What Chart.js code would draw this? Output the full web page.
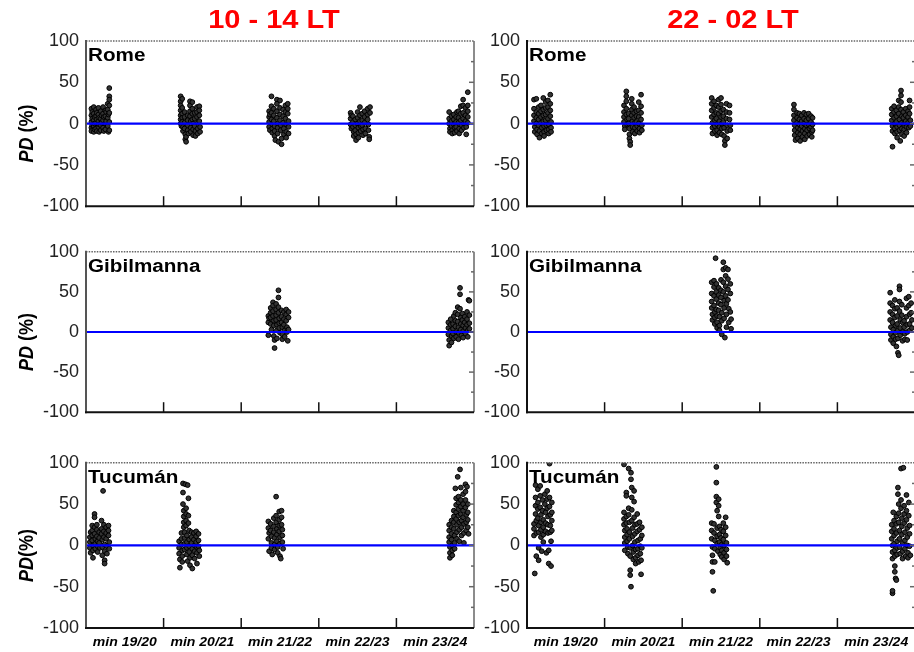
<!DOCTYPE html>
<html>
<head>
<meta charset="utf-8">
<script src="https://cdn.jsdelivr.net/npm/chart.js@4/dist/chart.umd.min.js"></script>
<style>
  html, body { margin: 0; padding: 0; background: #fff; overflow: hidden; width: 914px; height: 652px; }
  #wrap { position: relative; width: 914px; height: 652px; }
  #wrap canvas { position: absolute; }
</style>
</head>
<body>
<div id="wrap"></div>
<script>
// Local-time windows (columns) and stations (rows)
const periods = ['10 - 14 LT', '22 - 02 LT'];
const stations = ['Rome', 'Gibilmanna', 'Tucumán'];
// Solar-minimum winters along the x axis (one unit per winter)
const minima = ['min 19/20', 'min 20/21', 'min 21/22', 'min 22/23', 'min 23/24'];
const yMin = -100, yMax = 100, yStep = 50;
// zero reference level
const baseline = [[0, 0], [5, 0]];

// Percentage deviation PD (%) : [x position, PD]
const romeDay = [
  [0.07,18],[0.07,10],[0.07,2],[0.07,-5],[0.07,-9],[0.08,14],[0.08,6],[0.08,-2],
  [0.10,20],[0.10,12],[0.10,4],[0.10,-3],[0.10,-10],[0.11,8],[0.11,0],[0.11,-7],
  [0.13,17],[0.13,9],[0.13,1],[0.13,-6],[0.14,13],[0.14,5],[0.14,-9],
  [0.16,19],[0.16,11],[0.16,3],[0.16,-4],[0.17,7],[0.17,-1],[0.17,-10],
  [0.19,15],[0.19,6],[0.19,-2],[0.19,-8],[0.20,10],[0.20,1],
  [0.22,20],[0.22,12],[0.22,4],[0.22,-5],[0.23,8],[0.23,-9],
  [0.25,16],[0.25,9],[0.25,0],[0.25,-7],[0.26,14],[0.26,3],
  [0.28,24],[0.28,17],[0.28,7],[0.28,-3],[0.29,-10],[0.29,11],
  [0.30,43],[0.30,33],[0.30,29],[0.30,22],[0.30,13],[0.30,2],[0.30,-8],

  [1.22,33],[1.22,27],[1.22,22],[1.22,16],[1.22,10],[1.22,5],[1.22,0],[1.23,-3],
  [1.24,30],[1.24,19],[1.24,12],[1.24,7],[1.24,2],[1.25,-4],[1.25,-9],
  [1.27,14],[1.27,8],[1.27,1],[1.27,-6],[1.28,-13],[1.28,-19],[1.29,-22],[1.29,-16],
  [1.31,10],[1.31,4],[1.31,-2],[1.31,-8],[1.32,-12],
  [1.34,27],[1.34,22],[1.34,15],[1.34,9],[1.35,3],[1.35,-5],[1.35,-10],
  [1.37,26],[1.37,18],[1.37,12],[1.37,5],[1.38,0],[1.38,-7],[1.38,-14],
  [1.40,13],[1.40,6],[1.40,-3],[1.41,-9],[1.41,-15],
  [1.43,20],[1.43,14],[1.43,8],[1.44,1],[1.44,-6],[1.44,-12],
  [1.46,21],[1.46,16],[1.46,10],[1.46,3],[1.47,-4],[1.47,-10],

  [2.36,15],[2.36,8],[2.36,2],[2.36,-4],[2.37,-8],[2.37,11],
  [2.39,33],[2.39,21],[2.39,13],[2.39,5],[2.40,-1],[2.40,-6],[2.40,-11],
  [2.42,18],[2.42,10],[2.42,3],[2.43,-3],[2.43,-9],[2.43,-15],[2.44,-20],
  [2.46,29],[2.46,24],[2.46,15],[2.46,7],[2.47,0],[2.47,-5],[2.47,-12],[2.48,-22],
  [2.50,28],[2.50,19],[2.50,11],[2.50,4],[2.51,-2],[2.51,-8],[2.52,-18],[2.52,-25],
  [2.54,17],[2.54,9],[2.54,1],[2.55,-6],[2.55,-13],
  [2.57,22],[2.57,14],[2.57,6],[2.58,-1],[2.58,-10],[2.58,-17],
  [2.60,24],[2.60,18],[2.60,12],[2.61,3],[2.61,-4],[2.61,-12],

  [3.41,13],[3.41,6],[3.41,-1],[3.42,-6],[3.42,10],
  [3.44,9],[3.44,2],[3.44,-4],[3.45,-10],[3.45,-15],
  [3.47,5],[3.47,-2],[3.47,-8],[3.48,-13],[3.48,-20],
  [3.50,14],[3.50,7],[3.50,0],[3.51,-5],[3.51,-11],[3.51,-17],
  [3.53,20],[3.53,10],[3.53,3],[3.54,-3],[3.54,-9],
  [3.56,12],[3.56,4],[3.56,-2],[3.57,-7],[3.57,-14],
  [3.59,15],[3.59,8],[3.59,1],[3.60,-6],[3.60,-12],
  [3.63,18],[3.63,11],[3.63,5],[3.64,-1],[3.64,-8],[3.65,-16],[3.65,-19],
  [3.66,20],[3.66,13],

  [4.68,14],[4.68,6],[4.68,0],[4.69,-6],[4.69,-10],
  [4.71,9],[4.71,3],[4.71,-3],[4.72,-8],[4.72,-12],
  [4.74,11],[4.74,5],[4.74,-1],[4.75,-5],[4.75,-11],
  [4.77,8],[4.77,2],[4.77,-4],[4.78,-9],[4.78,14],
  [4.80,15],[4.80,7],[4.80,1],[4.81,-6],[4.81,-12],
  [4.83,21],[4.83,12],[4.83,4],[4.84,-2],[4.84,-8],
  [4.86,29],[4.86,22],[4.86,13],[4.86,6],[4.87,0],[4.87,-5],
  [4.89,19],[4.89,10],[4.89,3],[4.90,-4],[4.90,-13],
  [4.92,38],[4.92,22],[4.92,15],[4.92,8],[4.92,1]
];

const romeNight = [
  [0.09,29],[0.09,18],[0.09,10],[0.09,3],[0.10,-4],[0.10,-10],
  [0.12,30],[0.12,14],[0.12,7],[0.12,0],[0.13,-7],[0.13,-13],
  [0.15,20],[0.15,12],[0.15,5],[0.15,-2],[0.16,-9],[0.16,-17],
  [0.18,22],[0.18,15],[0.18,8],[0.18,1],[0.19,-5],[0.19,-12],
  [0.21,31],[0.21,17],[0.21,10],[0.21,3],[0.22,-3],[0.22,-10],[0.22,-15],
  [0.24,26],[0.24,19],[0.24,11],[0.24,4],[0.25,-2],[0.25,-8],
  [0.27,28],[0.27,20],[0.27,13],[0.27,6],[0.28,-1],[0.28,-7],[0.28,-12],
  [0.30,35],[0.30,24],[0.30,16],[0.30,9],[0.31,2],[0.31,-5],[0.31,-10],

  [1.25,22],[1.25,14],[1.25,8],[1.25,2],[1.26,-3],[1.26,-7],
  [1.28,39],[1.28,33],[1.28,27],[1.28,18],[1.28,11],[1.29,5],[1.29,-1],
  [1.31,12],[1.31,6],[1.31,0],[1.32,-6],[1.32,-13],[1.32,-18],[1.33,-22],[1.33,-26],
  [1.35,30],[1.35,24],[1.35,17],[1.35,10],[1.36,3],[1.36,-4],[1.36,-10],
  [1.38,20],[1.38,13],[1.38,7],[1.39,1],[1.39,-5],[1.39,-12],
  [1.41,15],[1.41,9],[1.41,2],[1.42,-3],[1.42,-9],
  [1.44,26],[1.44,16],[1.44,8],[1.44,0],[1.45,-6],[1.45,-11],
  [1.47,35],[1.47,21],[1.47,13],[1.47,5],[1.48,-2],[1.48,-8],

  [2.38,31],[2.38,24],[2.38,16],[2.38,8],[2.39,1],[2.39,-5],[2.39,-12],
  [2.41,27],[2.41,19],[2.41,11],[2.42,4],[2.42,-3],[2.42,-9],
  [2.44,22],[2.44,13],[2.44,6],[2.45,-1],[2.45,-8],[2.45,-14],
  [2.47,29],[2.47,20],[2.47,12],[2.48,3],[2.48,-4],[2.48,-11],
  [2.50,31],[2.50,23],[2.50,15],[2.50,8],[2.51,0],[2.51,-6],[2.51,-13],
  [2.53,17],[2.53,9],[2.53,2],[2.54,-5],[2.54,-15],[2.55,-21],[2.55,-26],
  [2.57,24],[2.57,14],[2.57,6],[2.58,-2],[2.58,-9],[2.58,-18],
  [2.61,22],[2.61,13],[2.61,5],[2.62,-2],[2.62,-8],

  [3.44,23],[3.44,17],[3.44,10],[3.44,4],[3.45,-2],[3.45,-8],[3.45,-14],[3.46,-20],
  [3.48,13],[3.48,7],[3.48,1],[3.49,-5],[3.49,-11],[3.49,-18],
  [3.51,12],[3.51,5],[3.51,-1],[3.52,-7],[3.52,-13],[3.52,-21],
  [3.54,10],[3.54,3],[3.54,-3],[3.55,-9],[3.55,-16],
  [3.57,13],[3.57,6],[3.57,0],[3.58,-6],[3.58,-12],[3.58,-19],
  [3.60,11],[3.60,4],[3.60,-2],[3.61,-8],[3.61,-15],
  [3.63,12],[3.63,6],[3.63,-1],[3.64,-6],[3.64,-13],
  [3.66,9],[3.66,2],[3.66,-4],[3.67,-10],[3.67,-16],
  [3.68,7],[3.68,-1],[3.68,-8],

  [4.70,18],[4.70,11],[4.70,4],[4.71,-3],[4.71,-9],[4.71,-28],
  [4.73,21],[4.73,14],[4.73,7],[4.74,0],[4.74,-6],[4.74,-12],
  [4.76,16],[4.76,9],[4.76,2],[4.77,-4],[4.77,-10],[4.77,-17],
  [4.79,28],[4.79,20],[4.79,12],[4.80,5],[4.80,-2],[4.80,-8],[4.81,-21],
  [4.82,40],[4.82,34],[4.82,26],[4.82,17],[4.83,9],[4.83,1],[4.83,-6],[4.83,-13],
  [4.85,14],[4.85,7],[4.86,0],[4.86,-7],[4.86,-15],
  [4.88,18],[4.88,10],[4.88,3],[4.89,-4],[4.89,-11],
  [4.91,15],[4.91,8],[4.91,1],[4.92,-5],
  [4.93,28],[4.93,20],[4.93,12],[4.94,4],[4.94,-3]
];

const gibilDay = [
  [2.35,20],[2.35,12],[2.35,-4],[2.36,17],
  [2.38,30],[2.38,24],[2.38,18],[2.38,10],[2.39,3],
  [2.41,37],[2.41,33],[2.41,26],[2.41,20],[2.42,14],[2.42,8],[2.42,-5],[2.43,-10],[2.43,-20],
  [2.45,35],[2.45,28],[2.45,21],[2.45,15],[2.46,9],[2.46,2],[2.46,-8],
  [2.48,52],[2.48,43],[2.48,31],[2.48,24],[2.49,17],[2.49,11],[2.49,5],[2.50,-1],
  [2.52,27],[2.52,19],[2.52,12],[2.53,6],[2.53,-3],[2.53,-9],
  [2.55,25],[2.55,16],[2.55,9],[2.56,2],[2.56,-6],
  [2.58,28],[2.58,22],[2.58,14],[2.59,6],[2.59,0],[2.60,-11],
  [2.61,25],[2.61,18],[2.61,3],

  [4.67,12],[4.67,5],[4.67,-3],[4.68,-10],[4.68,-17],
  [4.70,16],[4.70,9],[4.70,2],[4.71,-5],[4.71,-13],
  [4.73,10],[4.73,4],[4.73,-2],[4.74,-8],[4.74,20],
  [4.76,24],[4.76,14],[4.76,7],[4.77,0],[4.77,-6],
  [4.79,31],[4.79,22],[4.79,13],[4.80,6],[4.80,-1],[4.80,-9],
  [4.82,55],[4.82,47],[4.82,29],[4.83,18],[4.83,10],[4.83,3],[4.84,-4],
  [4.85,23],[4.85,15],[4.86,8],[4.86,1],[4.86,-7],
  [4.88,19],[4.88,12],[4.89,5],[4.89,-2],
  [4.91,25],[4.91,16],[4.91,9],[4.92,2],[4.92,-6],
  [4.93,40],[4.94,39],[4.94,21],[4.94,11],[4.94,4]
];

const gibilNight = [
  [2.38,62],[2.38,48],[2.38,38],[2.38,30],[2.39,22],[2.39,15],
  [2.41,64],[2.41,56],[2.41,45],[2.41,33],[2.42,25],[2.42,18],[2.42,10],
  [2.43,92],
  [2.44,60],[2.44,50],[2.44,41],[2.44,28],[2.45,20],[2.45,12],[2.45,5],
  [2.47,55],[2.47,46],[2.47,36],[2.47,27],[2.48,19],[2.48,8],[2.48,2],
  [2.50,65],[2.50,52],[2.50,43],[2.50,34],[2.51,24],[2.51,14],[2.51,-3],
  [2.53,87],[2.53,78],[2.53,62],[2.53,50],[2.54,39],[2.54,30],[2.54,17],[2.55,-7],
  [2.56,80],[2.56,70],[2.56,57],[2.56,45],[2.57,35],[2.57,22],[2.57,6],
  [2.59,78],[2.59,66],[2.59,53],[2.59,40],[2.60,29],[2.60,12],
  [2.62,60],[2.62,48],[2.62,25],[2.63,16],[2.63,4],

  [4.68,49],[4.68,36],[4.68,25],[4.68,15],[4.69,6],[4.69,-3],[4.69,-10],
  [4.71,33],[4.71,22],[4.71,12],[4.72,3],[4.72,-6],[4.72,-14],
  [4.74,40],[4.74,29],[4.74,18],[4.75,8],[4.75,-1],[4.75,-9],[4.76,-18],
  [4.77,30],[4.77,20],[4.77,10],[4.78,2],[4.78,-8],[4.78,-26],[4.79,-29],
  [4.80,57],[4.80,53],[4.80,38],[4.80,26],[4.81,15],[4.81,5],[4.81,-4],
  [4.83,34],[4.83,21],[4.84,12],[4.84,0],[4.84,-11],
  [4.86,14],[4.86,6],[4.87,-2],[4.87,-9],
  [4.89,42],[4.89,30],[4.89,19],[4.90,9],[4.90,0],[4.90,-10],
  [4.92,44],[4.92,33],[4.93,22],[4.93,10],[4.93,2],
  [4.95,36],[4.95,24],[4.96,15],[4.96,5]
];

const tucuDay = [
  [0.05,10],[0.05,4],[0.05,-3],[0.06,-9],[0.06,16],
  [0.08,24],[0.08,18],[0.08,12],[0.08,6],[0.09,0],[0.09,-6],[0.09,-15],
  [0.11,38],[0.11,34],[0.11,22],[0.11,14],[0.12,8],[0.12,2],[0.12,-4],
  [0.14,25],[0.14,19],[0.14,11],[0.15,5],[0.15,-1],[0.15,-8],
  [0.17,16],[0.17,9],[0.17,3],[0.18,-3],
  [0.20,30],[0.20,20],[0.20,14],[0.21,7],[0.21,-2],[0.21,-12],
  [0.22,66],
  [0.23,25],[0.23,17],[0.23,10],[0.24,1],[0.24,-7],[0.24,-18],[0.24,-22],
  [0.26,22],[0.26,15],[0.26,8],[0.27,-1],[0.27,-10],
  [0.29,24],[0.29,18],[0.29,12],[0.30,4],[0.30,-4],

  [1.20,5],[1.20,-3],[1.20,-10],[1.21,-17],[1.21,-27],
  [1.23,15],[1.23,8],[1.23,1],[1.24,-6],[1.24,-13],[1.24,-20],
  [1.25,75],[1.25,64],[1.25,50],[1.26,42],[1.26,35],[1.26,28],[1.26,22],[1.27,16],[1.27,9],[1.27,2],[1.27,-5],
  [1.28,74],[1.29,45],[1.29,38],[1.29,30],[1.29,24],[1.30,12],[1.30,4],[1.30,-3],[1.30,-11],[1.31,-19],
  [1.31,73],[1.32,57],[1.32,36],[1.32,27],[1.33,18],[1.33,7],[1.33,-1],[1.33,-8],[1.34,-15],[1.34,-24],
  [1.36,16],[1.36,10],[1.36,3],[1.37,-4],[1.37,-12],[1.37,-28],
  [1.39,15],[1.39,7],[1.40,0],[1.40,-7],[1.40,-16],
  [1.42,17],[1.42,11],[1.42,4],[1.43,-2],[1.43,-9],[1.43,-22],
  [1.45,14],[1.45,6],[1.45,-1],[1.46,-6],[1.46,-13],

  [2.35,29],[2.35,21],[2.35,8],[2.36,-7],[2.36,15],
  [2.38,26],[2.38,18],[2.39,11],[2.39,3],[2.39,-3],[2.40,-11],
  [2.42,33],[2.42,23],[2.42,16],[2.43,9],[2.43,1],[2.43,-5],
  [2.45,59],[2.45,36],[2.45,28],[2.46,20],[2.46,13],[2.46,5],[2.47,-2],[2.47,-9],
  [2.49,41],[2.49,31],[2.49,24],[2.49,17],[2.50,10],[2.50,2],[2.50,-13],[2.51,-16],
  [2.52,42],[2.52,34],[2.52,25],[2.53,19],[2.53,12],[2.53,4],[2.54,-4],

  [4.68,25],[4.68,18],[4.68,10],[4.68,4],[4.69,-2],[4.69,-9],[4.69,-15],
  [4.71,30],[4.71,22],[4.71,14],[4.71,7],[4.72,0],[4.72,-6],[4.72,-12],
  [4.74,42],[4.74,35],[4.74,28],[4.74,20],[4.75,12],[4.75,3],[4.75,-4],
  [4.76,69],[4.77,57],[4.77,49],[4.77,40],[4.77,32],[4.78,25],[4.78,16],[4.78,8],
  [4.79,83],[4.80,59],[4.80,52],[4.80,44],[4.80,36],[4.81,28],[4.81,19],[4.81,5],
  [4.82,92],[4.83,70],[4.83,55],[4.83,47],[4.83,38],[4.84,30],[4.84,22],[4.84,12],
  [4.86,62],[4.86,50],[4.86,42],[4.86,34],[4.87,26],[4.87,15],[4.87,3],
  [4.89,74],[4.89,65],[4.89,55],[4.89,46],[4.90,37],[4.90,28],[4.90,18],
  [4.91,71],[4.92,50],[4.92,40],[4.92,31],[4.92,22],[4.93,14]
];

const tucuNight = [
  [0.09,26],[0.09,20],[0.09,12],[0.10,-34],
  [0.11,73],[0.11,58],[0.11,48],[0.11,38],[0.12,30],[0.12,15],[0.12,-13],
  [0.14,68],[0.14,52],[0.14,44],[0.14,33],[0.15,24],[0.15,16],[0.15,-3],[0.15,-18],
  [0.17,72],[0.17,60],[0.17,46],[0.18,37],[0.18,28],[0.18,19],[0.18,10],[0.19,-7],
  [0.20,55],[0.20,42],[0.21,31],[0.21,22],[0.21,13],[0.21,4],
  [0.23,62],[0.23,50],[0.24,40],[0.24,27],[0.24,17],[0.25,-9],
  [0.26,66],[0.26,56],[0.26,45],[0.27,35],[0.27,25],[0.27,15],[0.28,-6],[0.28,-22],
  [0.29,99],[0.29,58],[0.29,47],[0.30,37],[0.30,24],[0.30,16],[0.31,5],[0.31,-25],
  [0.32,52],[0.32,40],[0.32,30],[0.32,18],

  [1.25,98],[1.25,40],[1.25,32],[1.25,25],[1.26,18],[1.26,10],[1.26,3],[1.26,-6],
  [1.28,64],[1.28,60],[1.28,35],[1.28,27],[1.29,20],[1.29,13],[1.29,5],[1.30,-2],[1.30,-10],
  [1.31,93],[1.31,45],[1.31,37],[1.32,28],[1.32,16],[1.32,8],[1.33,-3],[1.33,-13],[1.33,-30],[1.33,-36],[1.34,-50],
  [1.34,88],[1.34,80],[1.35,70],[1.35,58],[1.35,43],[1.35,30],[1.36,21],[1.36,11],[1.36,0],[1.37,-8],[1.37,-17],
  [1.38,66],[1.38,53],[1.38,34],[1.39,25],[1.39,14],[1.39,4],[1.40,-5],[1.40,-15],[1.40,-22],
  [1.42,38],[1.42,26],[1.42,17],[1.43,6],[1.43,-4],[1.43,-12],[1.44,-20],
  [1.45,28],[1.45,19],[1.46,8],[1.46,-1],[1.46,-10],[1.47,-18],[1.47,-35],
  [1.48,22],[1.48,12],[1.48,-3],

  [2.38,27],[2.38,18],[2.38,8],[2.39,-2],[2.39,-12],[2.39,-20],[2.39,-32],[2.40,-55],
  [2.41,26],[2.41,15],[2.42,6],[2.42,-4],[2.42,-20],
  [2.44,95],[2.44,76],[2.44,59],[2.44,52],[2.45,42],[2.45,21],[2.45,11],[2.45,2],[2.46,-7],
  [2.47,56],[2.47,48],[2.47,35],[2.48,23],[2.48,13],[2.48,4],[2.49,-3],[2.49,-11],
  [2.50,19],[2.50,9],[2.51,1],[2.51,-6],[2.51,-14],
  [2.53,27],[2.53,17],[2.53,7],[2.54,0],[2.54,-9],[2.54,-17],
  [2.56,34],[2.56,22],[2.56,12],[2.57,3],[2.57,-5],[2.57,-13],[2.58,-21],

  [4.70,25],[4.70,17],[4.70,8],[4.71,0],[4.71,-8],[4.71,-16],[4.71,-58],[4.71,-55],
  [4.72,40],[4.73,30],[4.73,20],[4.73,12],[4.73,2],[4.74,-6],[4.74,-13],[4.74,-25],[4.74,-32],
  [4.75,-40],[4.76,-42],[4.76,35],[4.76,26],[4.76,15],[4.77,5],[4.77,-3],[4.77,-11],
  [4.78,70],[4.78,62],[4.79,50],[4.79,39],[4.79,28],[4.80,18],[4.80,8],[4.80,-2],[4.81,-10],
  [4.82,93],[4.82,55],[4.82,45],[4.83,33],[4.83,23],[4.83,13],[4.84,3],[4.84,-7],[4.84,-16],
  [4.85,94],[4.86,48],[4.86,38],[4.86,27],[4.87,16],[4.87,6],[4.87,-4],[4.88,-13],
  [4.89,61],[4.89,42],[4.89,31],[4.90,21],[4.90,10],[4.90,0],[4.91,-9],[4.91,-15],
  [4.92,52],[4.92,36],[4.93,24],[4.93,14],[4.93,-1],[4.94,-12]
];

// Panel grid: [row][col] -> series
const panelSeries = [
  [romeDay, romeNight],
  [gibilDay, gibilNight],
  [tucuDay, tucuNight]
];

// ---- layout (pixels) ----
const FONT = "'Liberation Sans', Arial, Helvetica, sans-serif";
const areaTop = [41, 248, 459], areaBottom = [210, 416, 628];
const areaLeft = [86, 527], areaRight = [474, 915];
const canvasLeft = [0, 480], canvasRight = [480, 916];
const canvasTop = [0, 234, 445], canvasBottom = [224, 430, 652];
const titleCenter = [274, 733];

function stretchedText(ctx, text, x, y, font, color, sx, align) {
  ctx.save();
  ctx.font = font;
  ctx.fillStyle = color;
  ctx.textBaseline = 'alphabetic';
  ctx.textAlign = 'left';
  const w = ctx.measureText(text).width * sx;
  const x0 = align === 'center' ? x - w / 2 : x;
  ctx.translate(x0, y);
  ctx.scale(sx, 1);
  ctx.fillText(text, 0, 0);
  ctx.restore();
}

function seg(ctx, x1, y1, x2, y2) {
  ctx.beginPath(); ctx.moveTo(x1, y1); ctx.lineTo(x2, y2); ctx.stroke();
}

function panelDecor(row, col) {
  return {
    id: 'panelDecor',
    afterDraw(chart) {
      const ctx = chart.ctx, a = chart.chartArea;
      const xs = chart.scales.x, ys = chart.scales.y;
      ctx.save();
      // top frame (fine dotted)
      ctx.strokeStyle = '#666'; ctx.lineWidth = 1.5; ctx.setLineDash([1.5, 1.2]);
      seg(ctx, a.left, a.top, a.right, a.top);
      ctx.setLineDash([]);
      // right frame with inward ticks
      ctx.strokeStyle = '#666'; ctx.lineWidth = 1.5;
      seg(ctx, a.right, a.top, a.right, a.bottom);
      for (let v = yMin + 25; v < yMax; v += 25) {
        const y = ys.getPixelForValue(v);
        const len = (v % yStep === 0) ? 5 : 3;
        seg(ctx, a.right - len, y, a.right, y);
      }
      // left axis
      ctx.strokeStyle = col === 0 ? '#555' : '#111'; ctx.lineWidth = 2;
      seg(ctx, a.left, a.top - 1, a.left, a.bottom + 1);
      // bottom axis with inward major ticks between winters
      ctx.strokeStyle = '#111'; ctx.lineWidth = 2;
      seg(ctx, a.left - 1, a.bottom, a.right, a.bottom);
      ctx.lineWidth = 1.5;
      for (let i = 1; i < minima.length; i++) {
        const x = xs.getPixelForValue(i);
        seg(ctx, x, a.bottom, x, a.bottom - 10);
      }
      ctx.restore();

      // station name
      stretchedText(ctx, stations[row], a.left + 2, a.top + 20,
        'bold 17.5px ' + FONT, '#000', 1.18, 'left');

      // column title
      if (row === 0) {
        stretchedText(ctx, periods[col], titleCenter[col] - canvasLeft[col], 28,
          'bold 25px ' + FONT, '#ff0000', 1.16, 'center');
      }

      // winter labels under the bottom row
      if (row === 2) {
        minima.forEach((lab, i) => {
          const x = xs.getPixelForValue(i + 0.5);
          stretchedText(ctx, lab, x, a.bottom + 18,
            'italic bold 12px ' + FONT, '#000', 1.17, 'center');
        });
      }

      // y axis title on the left column
      if (col === 0) {
        const p1 = 'PD', p2 = row === 2 ? '(%)' : ' (%)';
        const f1 = 'italic bold 18px ' + FONT, f2 = 'bold 18px ' + FONT;
        ctx.save();
        ctx.font = f1; const w1 = ctx.measureText(p1).width;
        ctx.font = f2; const w2 = ctx.measureText(p2).width;
        const cy = (a.top + a.bottom) / 2 + 10;
        ctx.translate(33, cy);
        ctx.rotate(-Math.PI / 2);
        ctx.scale(1, 1.15);
        ctx.fillStyle = '#000';
        ctx.textBaseline = 'alphabetic';
        ctx.textAlign = 'left';
        const start = -(w1 + w2) / 2;
        ctx.font = f1; ctx.fillText(p1, start, 0);
        ctx.font = f2; ctx.fillText(p2, start + w1, 0);
        ctx.restore();
      }
    }
  };
}

const wrap = document.getElementById('wrap');

for (let row = 0; row < 3; row++) {
  for (let col = 0; col < 2; col++) {
    const cv = document.createElement('canvas');
    const w = canvasRight[col] - canvasLeft[col];
    const h = canvasBottom[row] - canvasTop[row];
    cv.width = w; cv.height = h;
    cv.style.left = canvasLeft[col] + 'px';
    cv.style.top = canvasTop[row] + 'px';
    cv.style.width = w + 'px';
    cv.style.height = h + 'px';
    wrap.appendChild(cv);

    const yAxisWidth = areaLeft[col] - canvasLeft[col];
    const points = panelSeries[row][col];

    new Chart(cv, {
      data: {
        datasets: [
          {
            type: 'line',
            data: baseline.map(([x, y]) => ({ x, y })),
            borderColor: '#0000ff',
            borderWidth: 2.2,
            pointRadius: 0,
            order: 0
          },
          {
            type: 'scatter',
            data: points.map(([x, y]) => ({ x, y })),
            pointRadius: 2.4,
            pointBackgroundColor: '#333',
            pointBorderColor: '#000',
            pointBorderWidth: 1,
            order: 1
          }
        ]
      },
      options: {
        responsive: false,
        animation: false,
        devicePixelRatio: 1,
        events: [],
        layout: {
          autoPadding: false,
          padding: {
            left: 0,
            right: canvasRight[col] - areaRight[col],
            top: areaTop[row] - canvasTop[row],
            bottom: canvasBottom[row] - areaBottom[row]
          }
        },
        plugins: { legend: { display: false }, tooltip: { enabled: false } },
        scales: {
          x: { type: 'linear', min: 0, max: minima.length, display: false },
          y: {
            type: 'linear', min: yMin, max: yMax,
            afterFit(scale) { scale.width = yAxisWidth; },
            grid: { display: false, drawTicks: false },
            border: { display: false },
            ticks: {
              stepSize: yStep,
              padding: 7,
              color: '#222',
              font: { family: FONT, size: 18 }
            }
          }
        }
      },
      plugins: [panelDecor(row, col)]
    });
  }
}
</script>
</body>
</html>
